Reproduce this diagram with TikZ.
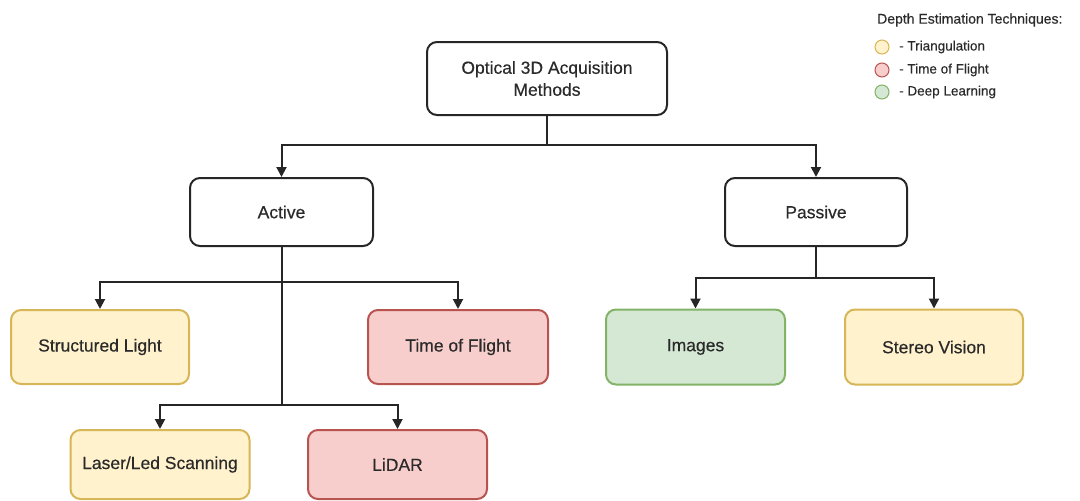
\documentclass[tikz,border=0pt]{standalone}
\usepackage{fontspec}
\setmainfont{Liberation Sans}
\newfontfamily\diafont[FakeBold=0.4]{Liberation Sans}
\usetikzlibrary{arrows.meta}
\definecolor{yfill}{HTML}{FFF2CC}\definecolor{ydraw}{HTML}{D6B656}
\definecolor{rfill}{HTML}{F8CECC}\definecolor{rdraw}{HTML}{B85450}
\definecolor{gfill}{HTML}{D5E8D4}\definecolor{gdraw}{HTML}{82B366}
\definecolor{txt}{HTML}{2A2A2A}
\tikzset{
  box/.style={draw=black!85, line width=2pt, rounded corners=10pt, fill=white, inner sep=0pt, align=center, text=txt, font=\diafont\fontsize{17.5}{22}\selectfont},
  ybox/.style={box, draw=ydraw, fill=yfill},
  rbox/.style={box, draw=rdraw, fill=rfill},
  gbox/.style={box, draw=gdraw, fill=gfill},
  conn/.style={line width=2pt, draw=black!85},
  arr/.style={conn, -{Triangle[length=10pt,width=10pt]}},
  legc/.style={circle, minimum size=14pt, inner sep=0pt, line width=1pt},
  legt/.style={anchor=west, inner sep=0pt, text=txt, font=\diafont\fontsize{13.5}{16}\selectfont},
}
\begin{document}
\begin{tikzpicture}[x=1pt,y=-1pt]
\useasboundingbox (0,0) rectangle (1080,501);
\node[box, minimum width=240pt, minimum height=73pt] (top) at (547,78.5) {Optical 3D Acquisition\\Methods};
\node[box, minimum width=183pt, minimum height=68pt] (active) at (281.5,212) {Active};
\node[box, minimum width=182pt, minimum height=68pt] (passive) at (816,212) {Passive};
\node[ybox, minimum width=178pt, minimum height=74pt] (sl) at (100,347) {Structured Light};
\node[rbox, minimum width=180pt, minimum height=74pt] (tof) at (458,347) {Time of Flight};
\node[ybox, minimum width=179pt, minimum height=69pt] (laser) at (160,464.5) {Laser/Led Scanning};
\node[rbox, minimum width=179pt, minimum height=69pt] (lidar) at (397.5,464.5) {LiDAR};
\node[gbox, minimum width=179pt, minimum height=75pt] (img) at (695.5,347) {Images};
\node[ybox, minimum width=178pt, minimum height=75pt] (sv) at (934,347) {Stereo Vision};
\coordinate (j1) at (547,145);
\coordinate (j2) at (281.5,282);
\coordinate (j3) at (281.5,405);
\coordinate (j4) at (816,278);
\draw[conn] (top.south) -- (j1);
\draw[arr] (j1) -| (active.north);
\draw[arr] (j1) -| (passive.north);
\draw[conn] (active.south) -- (j3);
\draw[arr] (j2) -| (sl.north);
\draw[arr] (j2) -| (tof.north);
\draw[arr] (j3) -| (laser.north);
\draw[arr] (j3) -| (lidar.north);
\draw[conn] (passive.south) -- (j4);
\draw[arr] (j4) -| (img.north);
\draw[arr] (j4) -| (sv.north);
\node[legt, font=\diafont\fontsize{14}{16}\selectfont] (legtitle) at (877,20) {Depth Estimation Techniques:};
\node[legc, draw=ydraw, fill=yfill] (c1) at (882,47) {};
\node[legc, draw=rdraw, fill=rfill] (c2) at (882,70) {};
\node[legc, draw=gdraw, fill=gfill] (c3) at (882,92) {};
\node[legt] (l1) at (899,47) {- Triangulation};
\node[legt] (l2) at (899,70) {- Time of Flight};
\node[legt] (l3) at (899,92) {- Deep Learning};
\end{tikzpicture}
\end{document}
